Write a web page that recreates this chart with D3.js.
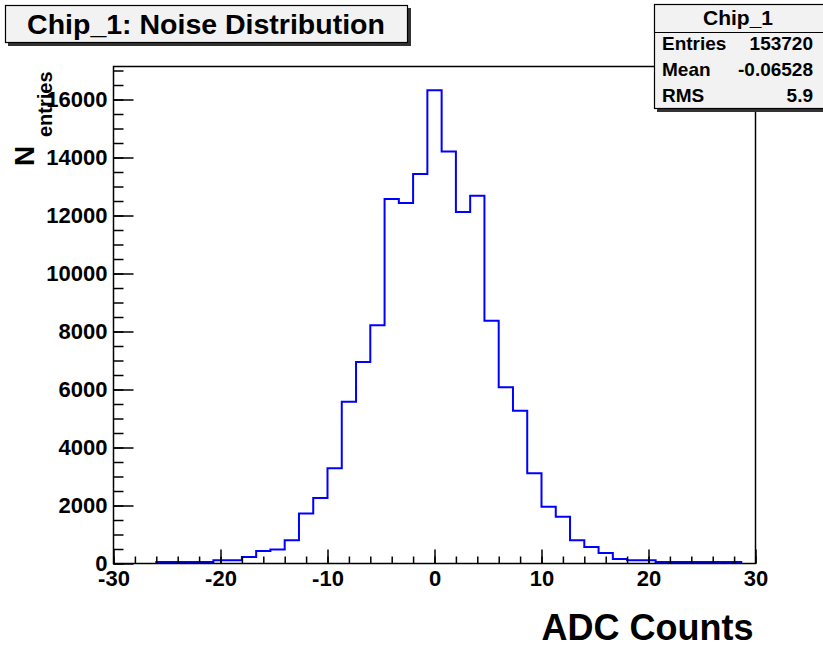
<!DOCTYPE html>
<html lang="en">

<head>
  <script src="https://d3js.org/d3.v7.min.js"></script>
  <meta charset="UTF-8">
  <title>Chip_1 noise</title>
  <style>
    body {
      margin: 0;
      background: #fff;
    }

    text {
      font-family: "Liberation Sans", Arial, Helvetica, sans-serif;
      font-weight: bold;
      fill: #000;
    }

    .axis .domain {
      display: none;
    }

    .axis line {
      stroke: #000;
      stroke-width: 1.5;
    }
  </style>
</head>

<body>
  <svg id="hist" width="823" height="647"></svg>
  <script>
    // histogram: 45 bins from -30 to 30
    const binLow = -30;
    const binHigh = 30;
    const binCounts = [
      0, 0, 0, 55, 55, 55, 55, 114, 114, 228,
      435, 483, 805, 1727, 2255, 3281, 5581, 6952, 8219, 12571,
      12433, 13434, 16322, 14204, 12122, 12685, 8368, 6078, 5270, 3108,
      1955, 1609, 805, 573, 366, 159, 114, 114, 55, 55,
      55, 55, 55, 55, 0
    ];
    const xTicks = [-30, -20, -10, 0, 10, 20, 30];
    const yTicks = [0, 2000, 4000, 6000, 8000, 10000, 12000, 14000, 16000];
    const statLabels = ["Entries", "Mean", "RMS"];
    const statValues = ["153720", "-0.06528", "5.9"];

    const svg = d3.select("#hist");
    const frame = { left: 113.5, right: 755.5, top: 66.5, bottom: 563.5 };

    const nBins = binCounts.length;
    const binWidth = (binHigh - binLow) / nBins;
    const yMax = d3.max(binCounts) * 1.05;

    const xScale = d3.scaleLinear().domain([binLow, binHigh]).range([frame.left, frame.right]);
    const yScale = d3.scaleLinear().domain([0, yMax]).range([frame.bottom, frame.top]);

    // plain labels, ascii minus, no thousands separator
    const plain = d => String(d);

    // step outline over the filled range only
    const first = binCounts.findIndex(c => c > 0);
    const last = nBins - 1 - [...binCounts].reverse().findIndex(c => c > 0);
    const pts = [[binLow + first * binWidth, 0]];
    for (let i = first; i <= last; i++) {
      pts.push([binLow + i * binWidth, binCounts[i]]);
      pts.push([binLow + (i + 1) * binWidth, binCounts[i]]);
    }
    pts.push([binLow + (last + 1) * binWidth, 0]);

    const lineGen = d3.line()
      .x(d => xScale(d[0]))
      .y(d => yScale(d[1]));

    svg.append("path")
      .attr("d", lineGen(pts))
      .attr("fill", "none")
      .attr("stroke", "#0000ff")
      .attr("stroke-width", 2);

    // frame
    svg.append("rect")
      .attr("x", frame.left).attr("y", frame.top)
      .attr("width", frame.right - frame.left)
      .attr("height", frame.bottom - frame.top)
      .attr("fill", "none")
      .attr("stroke", "#000")
      .attr("stroke-width", 1.5);

    // X axis, ticks pointing in
    svg.append("g")
      .attr("class", "axis")
      .attr("transform", `translate(0,${frame.bottom})`)
      .call(d3.axisBottom(xScale).tickValues(d3.range(-30, 30.1, 2)).tickSize(-7).tickFormat(""));
    const xAxis = svg.append("g")
      .attr("class", "axis")
      .attr("transform", `translate(0,${frame.bottom})`)
      .call(d3.axisBottom(xScale).tickValues(xTicks).tickSize(-14).tickPadding(7).tickFormat(plain));
    xAxis.selectAll("text").style("font-size", "22px");

    // Y axis
    svg.append("g")
      .attr("class", "axis")
      .attr("transform", `translate(${frame.left},0)`)
      .call(d3.axisLeft(yScale).tickValues(d3.range(0, 17001, 500)).tickSize(-10).tickFormat(""));
    const yAxis = svg.append("g")
      .attr("class", "axis")
      .attr("transform", `translate(${frame.left},0)`)
      .call(d3.axisLeft(yScale).tickValues(yTicks).tickSize(-20).tickPadding(6).tickFormat(plain));
    yAxis.selectAll("text").style("font-size", "22px");

    // axis titles
    svg.append("text")
      .attr("x", frame.right - 2).attr("y", 640)
      .attr("text-anchor", "end")
      .style("font-size", "36px")
      .text("ADC Counts");

    svg.append("text")
      .attr("transform", "translate(34,166) rotate(-90)")
      .style("font-size", "28px")
      .text("N");
    svg.append("text")
      .attr("transform", "translate(51.5,137) rotate(-90)")
      .style("font-size", "20px")
      .text("entries");

    // title box
    svg.append("rect")
      .attr("x", 8).attr("y", 8).attr("width", 403).attr("height", 38)
      .attr("fill", "#333");
    svg.append("rect")
      .attr("x", 5.5).attr("y", 5.5).attr("width", 402).attr("height", 37)
      .attr("fill", "#f2f2f2").attr("stroke", "#000").attr("stroke-width", 1.2);
    svg.append("text")
      .attr("x", 206).attr("y", 33.5)
      .attr("text-anchor", "middle")
      .style("font-size", "28.5px")
      .text("Chip_1: Noise Distribution");

    // stats box
    svg.append("rect")
      .attr("x", 657).attr("y", 7).attr("width", 170).attr("height", 105)
      .attr("fill", "#333");
    svg.append("rect")
      .attr("x", 654.5).attr("y", 4.5).attr("width", 170).attr("height", 104)
      .attr("fill", "#f2f2f2").attr("stroke", "#000").attr("stroke-width", 1.2);
    svg.append("line")
      .attr("x1", 654.5).attr("x2", 823).attr("y1", 32.5).attr("y2", 32.5)
      .attr("stroke", "#000").attr("stroke-width", 1.2);
    svg.append("text")
      .attr("x", 738).attr("y", 25)
      .attr("text-anchor", "middle")
      .style("font-size", "21px")
      .text("Chip_1");

    const rowY = d3.scalePoint().domain(statLabels).range([50, 102]);
    svg.selectAll("text.statLabel").data(statLabels)
      .join("text")
      .attr("class", "statLabel")
      .attr("x", 662).attr("y", d => rowY(d))
      .style("font-size", "19px")
      .text(d => d);
    svg.selectAll("text.statValue").data(statValues)
      .join("text")
      .attr("class", "statValue")
      .attr("x", 813).attr("y", (d, i) => rowY(statLabels[i]))
      .attr("text-anchor", "end")
      .style("font-size", "19px")
      .text(d => d);
  </script>
</body>

</html>
